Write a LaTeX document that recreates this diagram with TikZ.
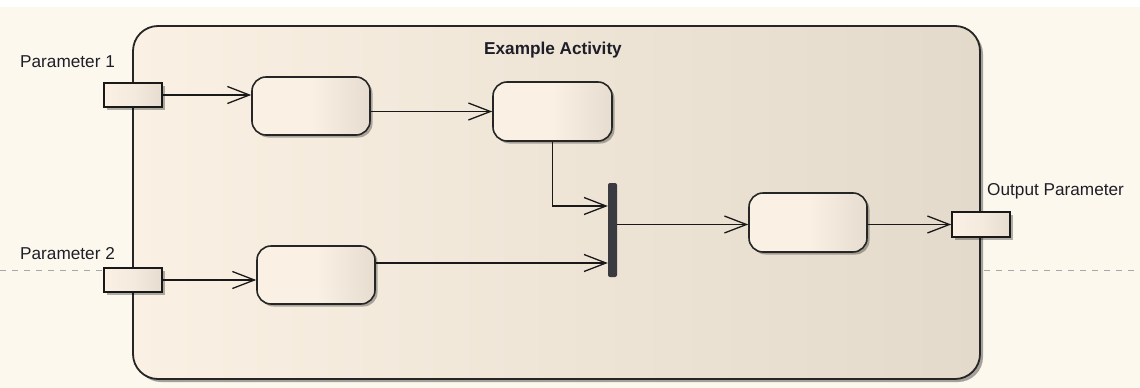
\documentclass[tikz,border=0pt]{standalone}
\usepackage{fontspec}
\setmainfont{Liberation Sans}
\usetikzlibrary{arrows.meta,shadows,calc}
\definecolor{bgcream}{HTML}{FDF8EE}
\definecolor{fillL}{HTML}{FAF0E3}
\definecolor{fillR}{HTML}{E3DACB}
\definecolor{nodeR}{HTML}{E6DDD0}
\definecolor{barc}{HTML}{3A3B40}
\definecolor{txt}{HTML}{1E1E28}
\tikzset{
  shad/.style={drop shadow={shadow xshift=2.5pt,shadow yshift=-2.5pt,fill=black,opacity=0.3}},
  actbox/.style={draw=black!85,line width=1.6pt,rounded corners=14pt,minimum width=118pt,minimum height=58pt,
    left color=fillL,right color=nodeR,middle color=fillL,shad,inner sep=0pt},
  pinbox/.style={draw=black!90,line width=1.6pt,minimum width=58pt,minimum height=24pt,inner sep=0pt,
    left color=fillL,right color=nodeR,middle color=fillL!70!nodeR,shad},
  flow/.style={line width=1.5pt,black!90,-{Straight Barb[length=22pt,width=17pt,line width=1.3pt]}},
  lbl/.style={font=\fontsize{17.2}{20}\selectfont,text=txt,inner sep=0pt},
}
\begin{document}
\begin{tikzpicture}[x=1pt,y=-1pt]
\useasboundingbox (0,0) rectangle (1140,388);
\fill[white] (0,0) rectangle (1140,388);
\fill[bgcream] (0,7) rectangle (1140,388);
\draw[gray!70,line width=1pt,dash pattern=on 6pt off 6pt] (0,270) -- (1140,270);
% frame
\path[left color=fillL,right color=fillR,draw=black!85,line width=1.8pt,rounded corners=25pt,
  drop shadow={shadow xshift=3pt,shadow yshift=-3pt,fill=black,opacity=0.35}]
  (133,26) rectangle (980,379);
\node[lbl,font=\fontsize{17.2}{20}\selectfont\bfseries] (title) at (553,50) {Example Activity};
% pins
\node[pinbox] (p1) at (133,95) {};
\node[pinbox] (p2) at (133,280) {};
\node[pinbox,minimum height=25pt] (out) at (981,224.5) {};
\node[lbl,anchor=west] (l1) at (20,62) {Parameter 1};
\node[lbl,anchor=west] (l2) at (20,254) {Parameter 2};
\node[lbl,anchor=west] (l3) at (987,191) {Output Parameter};
% actions
\node[actbox] (a1) at (311,106) {};
\node[actbox,minimum width=119pt,minimum height=59pt] (a2) at (552.5,111.5) {};
\node[actbox] (a3) at (316,275) {};
\node[actbox,minimum height=59pt] (a4) at (808,222.5) {};
\node[fill=barc,rounded corners=2pt,minimum width=9pt,minimum height=94pt,inner sep=0pt] (fork) at (612.5,230) {};
% flows
\draw[flow] (p1.east) -- (p1.east -| a1.west);
\draw[flow] (a1.east |- a2.west) -- (a2.west);
\draw[flow] (p2.east) -- (p2.east -| a3.west);
\draw[flow] (a2.south) |- ([yshift=24pt]fork.west);
\draw[flow] ([yshift=12pt]a3.east) -- ([yshift=12pt]a3.east -| fork.west);
\draw[flow] (fork.east |- out.west) -- (fork.east |- out.west -| a4.west);
\draw[flow] (a4.east |- out.west) -- (out.west);
\end{tikzpicture}
\end{document}
